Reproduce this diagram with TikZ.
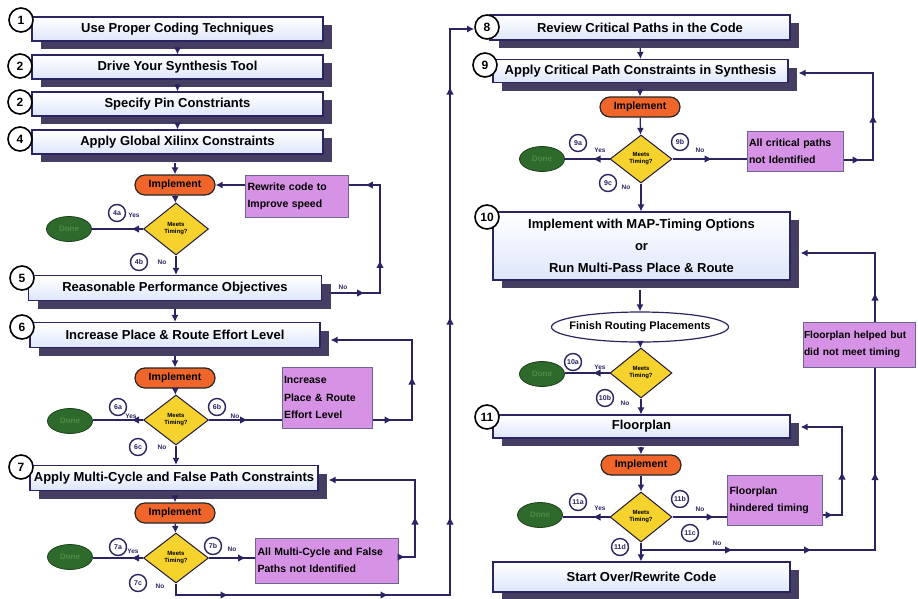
\documentclass[tikz,border=0pt]{standalone}
\usepackage{fontspec}
\setmainfont{Liberation Sans}
\usetikzlibrary{arrows.meta,shapes.geometric,shadows,decorations.markings,calc}

\definecolor{navy}{HTML}{2A2460}
\definecolor{shade}{HTML}{463D62}
\definecolor{impl}{HTML}{F0662A}
\definecolor{gold}{HTML}{F6D22C}
\definecolor{leaf}{HTML}{2E6A2C}
\definecolor{leaftext}{HTML}{4E8C46}
\definecolor{plum}{HTML}{D692E4}
\definecolor{boxblue}{HTML}{DDE6FA}

\tikzset{
  stepbox/.style={rectangle, draw=navy, line width=1.1pt, top color=white, bottom color=boxblue,
    general shadow={fill=shade, shadow xshift=9pt, shadow yshift=-8pt},
    inner sep=0pt, font=\fontsize{13}{14}\selectfont\bfseries, align=center},
  numc/.style={circle, draw=black, line width=1.6pt, fill=white, minimum size=24pt, inner sep=0pt,
    font=\fontsize{12}{12}\selectfont\bfseries},
  tagc/.style={circle, draw=navy, line width=1.4pt, fill=white, minimum size=17pt, inner sep=0pt,
    font=\fontsize{7}{7}\selectfont\bfseries, text=navy},
  implbox/.style={rectangle, rounded corners=10pt, draw=black!85, line width=1.2pt, fill=impl,
    minimum width=80pt, minimum height=20pt, inner sep=0pt, font=\fontsize{10.5}{11}\selectfont\bfseries},
  decide/.style={diamond, draw=navy!70!black, line width=1pt, fill=gold, inner sep=0pt,
    font=\fontsize{6}{7}\selectfont\bfseries, align=center},
  done/.style={ellipse, draw=leaf!60!black, line width=0.8pt, fill=leaf, minimum width=45pt,
    minimum height=25pt, inner sep=0pt, text=leaftext, font=\fontsize{8}{9}\selectfont\bfseries},
  note/.style={rectangle, draw=navy!70, line width=1pt, fill=plum, inner sep=0pt,
    font=\fontsize{10.5}{17}\selectfont\bfseries},
  lbl/.style={font=\fontsize{6.5}{6.5}\selectfont\bfseries, text=navy},
  flow/.style={draw=navy, line width=1.3pt, line join=miter},
  tip/.style={-{Latex[length=7pt,width=7pt]}},
  midarrow/.style={postaction={decorate, decoration={markings,
    mark=at position #1 with {\arrow{Latex[length=8pt,width=7.5pt]}}}}},
}

\begin{document}
\begin{tikzpicture}[x=1pt,y=-1pt]
\useasboundingbox (0,0) rectangle (918,598);

% ---------- left column: steps 1-7 ----------
\node[stepbox, minimum width=291pt, minimum height=24pt] (b1) at (177.5,29) {Use Proper Coding Techniques};
\node[stepbox, minimum width=291pt, minimum height=24pt] (b2) at (177.5,67) {Drive Your Synthesis Tool};
\node[stepbox, minimum width=291pt, minimum height=24pt] (b3) at (177.5,104) {Specify Pin Constriants};
\node[stepbox, minimum width=291pt, minimum height=24pt] (b4) at (177.5,142) {Apply Global Xilinx Constraints};
\node[numc] (n1) at (21,20) {1};
\node[numc] (n2) at (20,66) {2};
\node[numc] (n3) at (20,102) {2};
\node[numc] (n4) at (20,139) {4};

\node[implbox] (im1) at (175,185) {Implement};
\node[decide, minimum width=65pt, minimum height=52pt] (d1) at (176,229) {Meets\\Timing?};
\node[done] (done1) at (69,229) {Done};
\node[note, minimum width=103pt, minimum height=42pt, text width=98pt, align=left] (rw) at (296.5,196)
  {\fontsize{10.5}{16}\selectfont Rewrite code to\\Improve speed};
\node[tagc] (t4a) at (117,213) {4a};
\node[lbl] at (134,215) {Yes};
\node[tagc] (t4b) at (139,262) {4b};
\node[lbl] at (162,262) {No};

\node[stepbox, minimum width=293pt, minimum height=25pt] (b5) at (175,288) {Reasonable Performance Objectives};
\node[numc] (n5) at (22,278) {5};
\node[lbl] at (343,287) {No};

\node[stepbox, minimum width=290pt, minimum height=25pt] (b6) at (175,335) {Increase Place \& Route Effort Level};
\node[numc] (n6) at (22,327) {6};

\node[implbox] (im2) at (175,378) {Implement};
\node[decide, minimum width=65pt, minimum height=50pt] (d2) at (176,420) {Meets\\Timing?};
\node[done] (done2) at (70,421) {Done};
\node[note, minimum width=90pt, minimum height=61pt, text width=86pt, align=left] (inc) at (327,397.5)
  {\fontsize{10.5}{18.5}\selectfont Increase\\Place \& Route\\Effort Level};
\node[tagc] (t6a) at (118,407) {6a};
\node[lbl] at (131,416) {Yes};
\node[tagc] (t6b) at (217,407) {6b};
\node[lbl] at (235,416) {No};
\node[tagc] (t6c) at (138,447) {6c};
\node[lbl] at (162,447) {No};

\node[stepbox, minimum width=288pt, minimum height=25pt] (b7) at (174,478) {Apply Multi-Cycle and False Path Constraints};
\node[numc] (n7) at (21,467) {7};

\node[implbox] (im3) at (175,513) {Implement};
\node[decide, minimum width=65pt, minimum height=50pt] (d3) at (176,558) {Meets\\Timing?};
\node[done] (done3) at (70,557) {Done};
\node[note, minimum width=143pt, minimum height=45pt, text width=138pt, align=left] (amc) at (326.5,560.5)
  {\fontsize{10.5}{15}\selectfont All Multi-Cycle and False\\Paths not Identified};
\node[tagc] (t7a) at (118,547) {7a};
\node[lbl] at (133,551) {Yes};
\node[tagc] (t7b) at (213,546) {7b};
\node[lbl] at (232,549) {No};
\node[tagc] (t7c) at (138,583) {7c};
\node[lbl] at (160,586) {No};

% ---------- right column: steps 8-11 ----------
\node[stepbox, minimum width=300pt, minimum height=25pt] (b8) at (640,27.5) {Review Critical Paths in the Code};
\node[numc] (n8) at (487,27) {8};
\node[stepbox, minimum width=295pt, minimum height=23pt] (b9) at (640.5,71) {Apply Critical Path Constraints in Synthesis};
\node[numc] (n9) at (485,65) {9};

\node[implbox] (im4) at (640,107) {Implement};
\node[decide, minimum width=62pt, minimum height=48pt] (d4) at (641,159) {Meets\\Timing?};
\node[done] (done4) at (542,159) {Done};
\node[note, minimum width=96pt, minimum height=40pt, text width=92pt, align=left] (acp) at (795,151)
  {All critical paths\\not Identified};
\node[tagc] (t9a) at (578,143) {9a};
\node[lbl] at (600,150) {Yes};
\node[tagc] (t9b) at (680,142) {9b};
\node[lbl] at (700,150) {No};
\node[tagc] (t9c) at (608,183) {9c};
\node[lbl] at (626,187) {No};

\node[stepbox, minimum width=297pt, minimum height=68pt, font=\fontsize{13}{22}\selectfont\bfseries] (b10) at (641.5,246)
  {Implement with MAP-Timing Options\\or\\Run Multi-Pass Place \& Route};
\node[numc] (n10) at (487,217) {10};
\node[ellipse, draw=navy, line width=1.2pt, fill=white, minimum width=175pt, minimum height=30pt,
  inner xsep=-8pt, inner ysep=0pt, font=\fontsize{11}{12}\selectfont\bfseries] (fin) at (640,327) {Finish Routing Placements};
\node[decide, minimum width=62pt, minimum height=50pt] (d5) at (641,373) {Meets\\Timing?};
\node[done] (done5) at (542,374) {Done};
\node[note, minimum width=112pt, minimum height=45pt, text width=110pt, align=left] (fhb) at (859,344.5)
  {\fontsize{10.2}{17}\selectfont Floorplan helped but\\did not meet timing};
\node[tagc] (t10a) at (573,362) {10a};
\node[lbl] at (600,367) {Yes};
\node[tagc] (t10b) at (605,398) {10b};
\node[lbl] at (625,403) {No};

\node[stepbox, minimum width=297pt, minimum height=23pt] (b11) at (641.5,426.5) {Floorplan};
\node[numc] (n11) at (487,417) {11};
\node[implbox] (im5) at (641,465) {Implement};
\node[decide, minimum width=62pt, minimum height=50pt] (d6) at (641,517) {Meets\\Timing?};
\node[done] (done6) at (540,515) {Done};
\node[note, minimum width=95pt, minimum height=50pt, text width=90pt, align=left] (fht) at (774.5,500)
  {\fontsize{10.5}{15}\selectfont Floorplan\\hindered timing};
\node[tagc] (t11a) at (578,502) {11a};
\node[lbl] at (600,508) {Yes};
\node[tagc] (t11b) at (680,499) {11b};
\node[lbl] at (700,509) {No};
\node[tagc] (t11c) at (690,533) {11c};
\node[lbl] at (717,543) {No};
\node[tagc] (t11d) at (620,547) {11d};

\node[stepbox, minimum width=297pt, minimum height=30pt] (b12) at (641.5,577) {Start Over/Rewrite Code};

% ---------- straight flow ----------
\draw[flow, tip, shorten <=7pt] (b1.south) -- (b2.north);
\draw[flow, tip, shorten <=7pt] (b2.south) -- (b3.north);
\draw[flow, tip, shorten <=7pt] (b3.south) -- (b4.north);
\draw[flow, tip, shorten <=8pt] (b4.south -| im1) -- (im1.north);
\draw[flow, tip] (im1) -- (d1);
\draw[flow, midarrow=12pt] (d1.west) -- (done1.east);
\draw[flow, tip] (d1.south) -- (d1.south |- b5.north);
\draw[flow, tip, shorten <=8pt] (b5.south -| im2) -- (b6.north -| im2);
\draw[flow, tip, shorten <=8pt] (b6.south -| im2) -- (im2.north);
\draw[flow, tip] (im2) -- (d2);
\draw[flow, midarrow=12pt] (d2.west) -- (done2.east |- d2);
\draw[flow, midarrow=39pt] (d2.east) -- (inc.west |- d2);
\draw[flow, tip] (d2.south) -- (d2.south |- b7.north);
\draw[flow, tip, shorten <=8pt] (b7.south -| im3) -- (im3.north);
\draw[flow, tip] (im3) -- (d3);
\draw[flow, midarrow=12pt] (d3.west) -- (done3.east |- d3);
\draw[flow, midarrow=37pt] (d3.east) -- (amc.west |- d3);

\draw[flow, tip, shorten <=7pt] (b8.south) -- (b9.north);
\draw[flow, tip, shorten <=7pt] (b9.south -| im4) -- (im4.north);
\draw[flow, tip] (im4) -- (d4);
\draw[flow, midarrow=17pt] (d4.west) -- (done4.east);
\draw[flow, midarrow=40pt] (d4.east) -- (acp.west |- d4);
\draw[flow, tip] (d4.south) -- (d4.south |- b10.north);
\draw[flow, tip, shorten <=9pt] (b10.south -| fin) -- (fin.north);
\draw[flow, tip] (fin) -- (d5);
\draw[flow, midarrow=17pt] (d5.west) -- (done5.east |- d5);
\draw[flow, tip] (d5.south) -- (d5.south |- b11.north);
\draw[flow, tip, shorten <=8pt] (b11.south -| im5) -- (im5.north);
\draw[flow, tip] (im5) -- (d6);
\draw[flow, midarrow=17pt] (d6.west) -- (done6.east |- d6);
\draw[flow, midarrow=42pt] (d6.east) -- (fht.west |- d6);
\draw[flow, tip] (d6.south) -- (d6.south |- b12.north);

% ---------- feedback loops ----------
\coordinate (k1) at (380,293);
\coordinate (k2) at (380,185);
\draw[flow, midarrow=34pt, midarrow=82pt, midarrow=172pt] ($(b5.east)+(9,5)$) -- (k1) -- (k2) -- (rw.east |- k2);
\draw[flow, tip] (rw.west |- im1) -- (im1.east);

\coordinate (k3) at (412,420);
\coordinate (k4) at (412,340);
\draw[flow, tip, midarrow=20pt, midarrow=83pt] (inc.east |- k3) -- (k3) -- (k4) -- ($(b6.east |- k4)+(10,0)$);

\coordinate (k5) at (415,557);
\coordinate (k6) at (415,480);
\draw[flow, tip, midarrow=7pt, midarrow=57pt] (amc.east |- k5) -- (k5) -- (k6) -- ($(b7.east |- k6)+(10,0)$);

\coordinate (k7) at (176,595);
\coordinate (k8) at (450,595);
\coordinate (k9) at (450,29);
\draw[flow, tip, midarrow=64pt, midarrow=224pt, midarrow=364pt, midarrow=564pt, midarrow=794pt]
  (d3.south) -- (k7) -- (k8) -- (k9) -- (n8.west |- k9);

\coordinate (k10) at (873,160);
\coordinate (k11) at (873,73);
\draw[flow, tip, midarrow=17pt, midarrow=75pt] (acp.east |- k10) -- (k10) -- (k11) -- ($(b9.east |- k11)+(10,0)$);

\coordinate (k12) at (842,515);
\coordinate (k13) at (842,427);
\draw[flow, tip, midarrow=11pt, midarrow=63pt] (fht.east |- k12) -- (k12) -- (k13) -- ($(b11.east |- k13)+(10,0)$);

\coordinate (k14) at (641,550);
\coordinate (k15) at (875,550);
\coordinate (k16) at (875,253);
\draw[flow, midarrow=92pt, midarrow=171pt, midarrow=312pt] (k14) -- (k15) -- (fhb.south -| k15);
\draw[flow, tip, midarrow=29pt] (fhb.north -| k16) -- (k16) -- ($(b10.east |- k16)+(10,0)$);
\end{tikzpicture}
\end{document}
